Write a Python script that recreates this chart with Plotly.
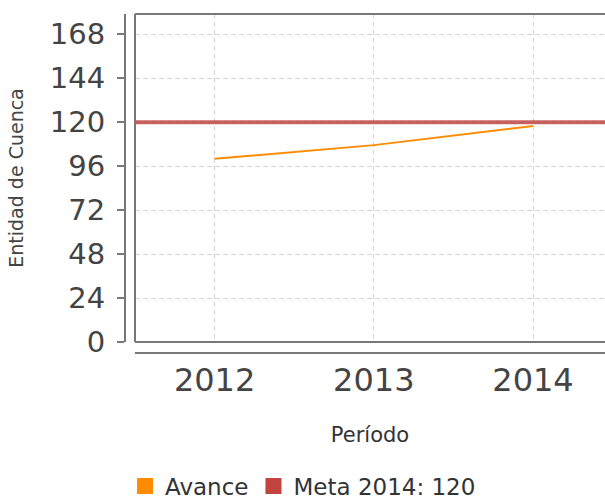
import plotly.graph_objects as go

# Data
periodos = [2012, 2013, 2014]
avance = [100, 107.5, 118]
meta_valor = 120
y_ticks = [0, 24, 48, 72, 96, 120, 144, 168]
serie_avance = "Avance"
serie_meta = "Meta 2014: 120"

W, H = 605, 502
ML, MR, MT, MB = 0, 0, 14, 160
plot_left = 135
axis_x = 125
FONT = "DejaVu Sans"
GREY = "#777777"
ORANGE = "#ff8c00"
RED = "rgba(185,55,52,0.78)"
GRID = "#d6d6d6"

fig = go.Figure()
fig.add_trace(go.Scatter(x=periodos, y=avance, mode="lines",
                         line=dict(color=ORANGE, width=2), showlegend=False,
                         name=serie_avance))
# legend-only entries with square swatches
fig.add_trace(go.Scatter(x=[None], y=[None], mode="markers", name=serie_avance,
                         marker=dict(symbol="square", size=16, color=ORANGE)))
fig.add_trace(go.Scatter(x=[None], y=[None], mode="markers", name=serie_meta,
                         marker=dict(symbol="square", size=16, color="#c0443f")))
fig.add_hline(y=meta_valor, line=dict(color=RED, width=4), layer="above")

pw = W - ML - MR
ph = H - MT - MB
x0 = periodos[0] - 0.5
x1 = x0 + (W - plot_left) / 159.2
fig.update_layout(
    width=W, height=H,
    margin=dict(l=ML, r=MR, t=MT, b=MB, autoexpand=False),
    paper_bgcolor="white", plot_bgcolor="white",
    font=dict(family=FONT, color="#444444"),
    xaxis=dict(domain=[plot_left / pw, 1], range=[x0, x1], automargin=False,
               tickvals=periodos, ticktext=[str(p) for p in periodos],
               tickfont=dict(size=32, color="#444444"),
               showgrid=True, gridcolor=GRID, griddash="5px,3px", gridwidth=1,
               zeroline=False, showline=False, ticks="",
               ticklabelstandoff=16,
               title=dict(text="Período", font=dict(size=21, color="#333333"),
                          standoff=29)),
    yaxis=dict(domain=[0, 1], range=[0, 179.1], anchor="free", automargin=False,
               position=axis_x / pw,
               tickvals=y_ticks, tickfont=dict(size=29, color="#444444"),
               showgrid=True, gridcolor=GRID, griddash="5px,3px", gridwidth=1,
               zeroline=False, showline=True, linecolor=GREY, linewidth=2,
               ticks="outside", ticklen=7, tickcolor=GREY, tickwidth=2,
               ticklabelstandoff=6,
               title=dict(text="Entidad de Cuenca", font=dict(size=19, color="#444444"),
                          standoff=20)),
    legend=dict(orientation="h", x=125 / pw, xanchor="left", y=-(486 - 342) / ph,
                yanchor="middle", font=dict(size=23, color="#333333"),
                itemwidth=30, tracegroupgap=0, bgcolor="rgba(0,0,0,0)"),
    showlegend=True,
)

lx = plot_left / pw
by = -11 / ph
shapes = [
    dict(type="line", xref="paper", yref="paper", x0=lx, x1=lx, y0=0, y1=1,
         line=dict(color=GREY, width=2)),
    dict(type="line", xref="paper", yref="paper", x0=lx, x1=1, y0=1, y1=1,
         line=dict(color=GREY, width=2)),
    dict(type="line", xref="paper", yref="paper", x0=lx, x1=1, y0=0, y1=0,
         line=dict(color=GREY, width=2)),
    dict(type="line", xref="paper", yref="paper", x0=lx, x1=1, y0=by, y1=by,
         line=dict(color=GREY, width=2)),
]
for s in shapes:
    fig.add_shape(**s)

fig.write_html("out.html", config={"displayModeBar": False},
               post_script="document.body.style.margin='0';document.body.style.padding='0';")
